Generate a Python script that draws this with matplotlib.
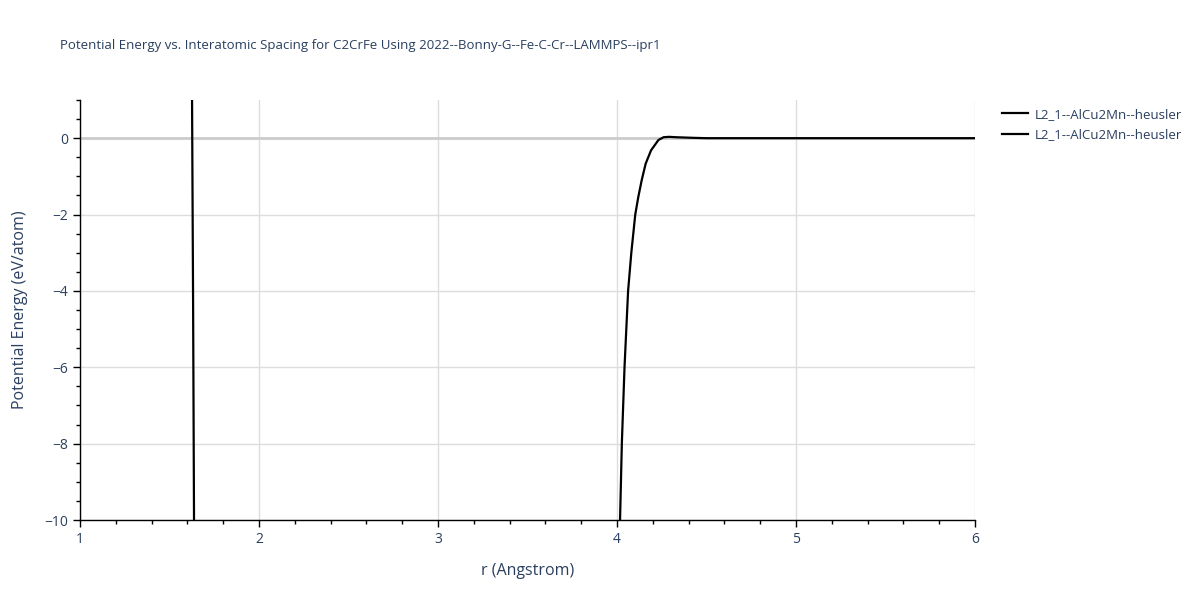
import matplotlib
matplotlib.use("Agg")
import matplotlib.pyplot as plt
from matplotlib.ticker import MultipleLocator

plt.rcParams['font.family'] = ['Open Sans', 'DejaVu Sans']

title = "Potential Energy vs. Interatomic Spacing for C2CrFe Using 2022--Bonny-G--Fe-C-Cr--LAMMPS--ipr1"
series_names = ["L2_1--AlCu2Mn--heusler", "L2_1--AlCu2Mn--heusler"]

r1 = [1.615, 1.626, 1.632, 1.637, 1.645]
e1 = [5.0, 1.0, -4.5, -10.0, -18.0]

r2 = [4.000, 4.017, 4.027, 4.042, 4.052, 4.062, 4.080, 4.102, 4.119, 4.138, 4.160, 4.190,
      4.231, 4.260, 4.290, 4.330, 4.420, 4.500, 4.600, 5.0, 5.5, 6.0]
e2 = [-13.0, -10.0, -8.0, -6.0, -5.0, -4.0, -3.0, -2.0, -1.54, -1.1, -0.67, -0.32,
      -0.05, 0.025, 0.035, 0.025, 0.01, 0.0, 0.0, 0.0, 0.0, 0.0]

text_color = '#2a3f5f'
fig = plt.figure(figsize=(12, 6), dpi=100)
ax = fig.add_axes([80/1200, 1-520/600, 895/1200, 420/600])

ax.plot(r1, e1, color='black', lw=1.6, label=series_names[0], zorder=3)
ax.plot(r2, e2, color='black', lw=1.6, label=series_names[1], zorder=3)

ax.set_xlim(1, 6)
ax.set_ylim(-10, 1.0)
ax.xaxis.set_major_locator(MultipleLocator(1))
ax.xaxis.set_minor_locator(MultipleLocator(0.2))
ax.yaxis.set_major_locator(MultipleLocator(2))
ax.yaxis.set_minor_locator(MultipleLocator(0.5))
ax.grid(True, which='major', color='#dddddd', lw=1)
ax.axhline(0, color='#cccccc', lw=2, zorder=1)
ax.set_axisbelow(True)

for s in ['top', 'right']:
    ax.spines[s].set_visible(False)
for s in ['left', 'bottom']:
    ax.spines[s].set_color('black')
    ax.spines[s].set_linewidth(1)

ax.tick_params(which='major', direction='out', length=5, color='black', labelsize=10, labelcolor=text_color, width=1)
ax.tick_params(which='minor', direction='out', length=3, color='black', width=1)
yt = [-10, -8, -6, -4, -2, 0]
ax.set_yticks(yt)
ax.set_yticklabels(['\u221210', '\u22128', '\u22126', '\u22124', '\u22122', '0'])

ax.set_xlabel("r (Angstrom)", fontsize=11.5, color=text_color, labelpad=12)
ax.set_ylabel("Potential Energy (eV/atom)", fontsize=11.5, color=text_color, labelpad=12)

fig.text(60/1200, 1-45/600, title, fontsize=9.5, color=text_color, va='center', ha='left')

leg = ax.legend(loc='upper left', bbox_to_anchor=(990/1200, 1-96/600), bbox_transform=fig.transFigure,
                frameon=False, fontsize=9.5, handlelength=2.0, labelspacing=0.55, handletextpad=0.5)
for t in leg.get_texts():
    t.set_color(text_color)

fig.savefig("out.png", dpi=100)
